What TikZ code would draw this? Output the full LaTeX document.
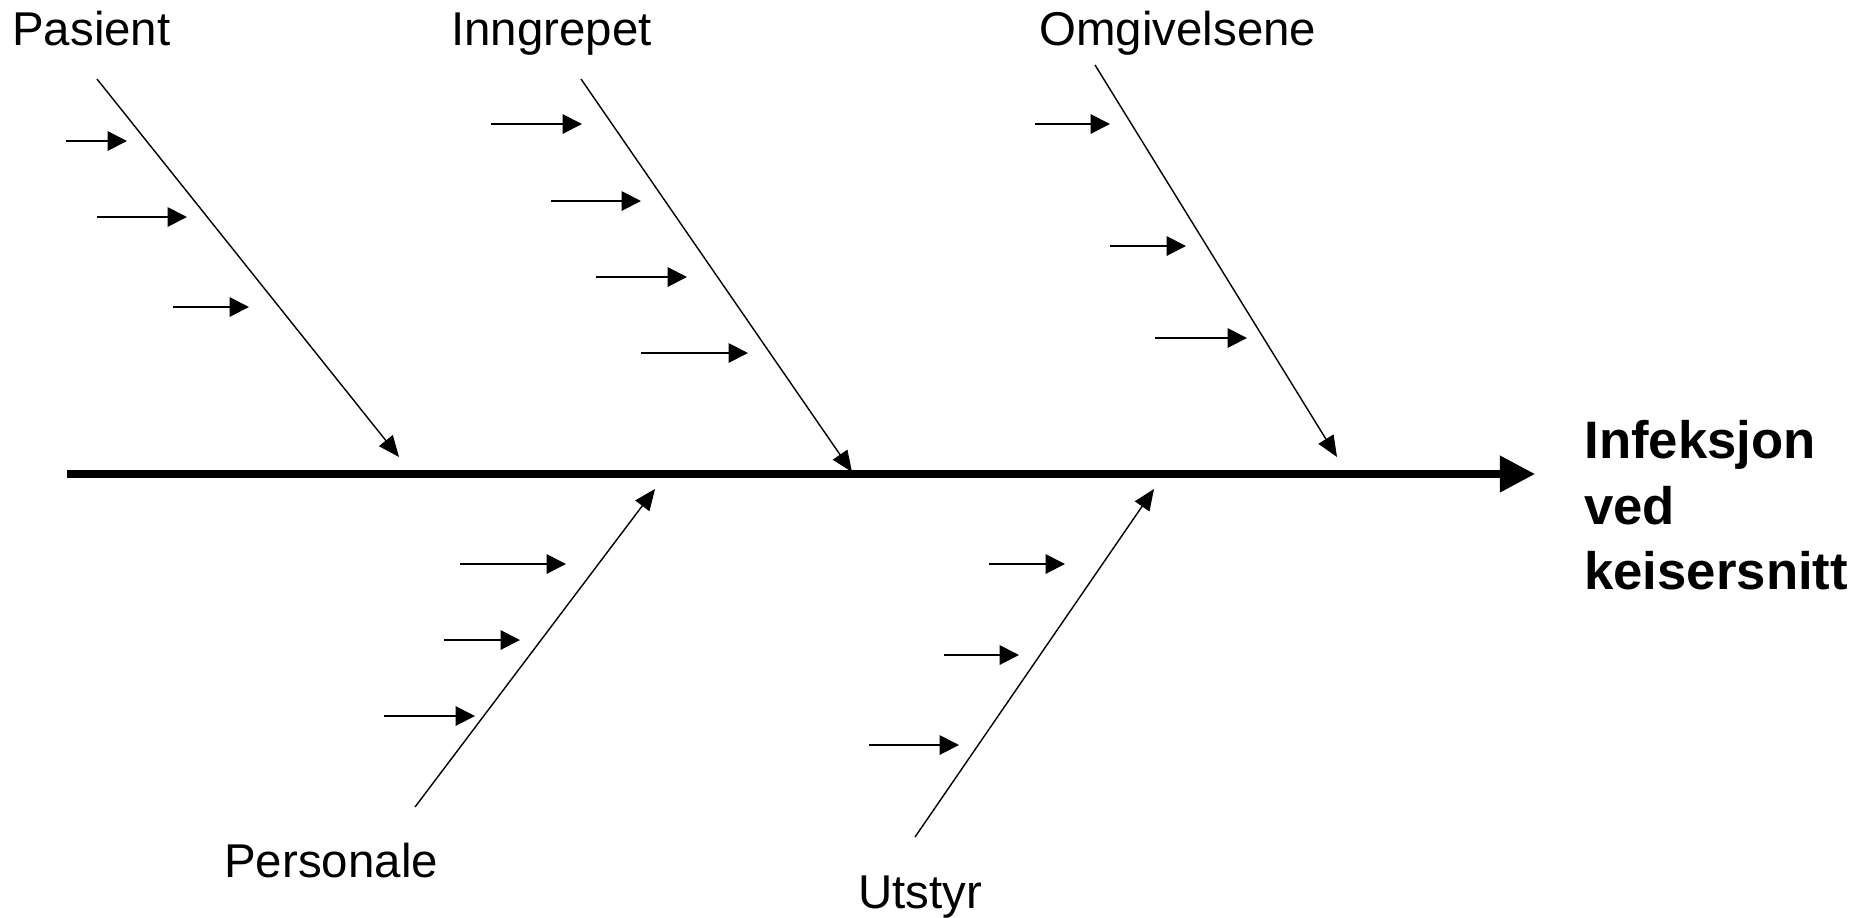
\documentclass[tikz,border=0pt]{standalone}
\usepackage{fontspec}
\setmainfont{Liberation Sans}
\usetikzlibrary{arrows.meta}

\begin{document}
\begin{tikzpicture}[x=0.02cm, y=-0.02cm, font=\fontsize{27}{32}\selectfont,
    spine/.style={line width=4pt, -{Triangle[length=20pt,width=20pt]}},
    bone/.style={line width=0.8pt, -{Triangle[length=12pt,width=10pt]}},
    cause/.style={line width=1.1pt, -{Triangle[length=11pt,width=11pt]}},
    cat/.style={anchor=base west, inner sep=0pt}]
			\useasboundingbox (0,0) rectangle (1858,917);

			\node[cat] (pas) at (12,45) {Pasient};
			\node[cat] (inn) at (451,45) {Inngrepet};
			\node[cat] (omg) at (1039,45) {Omgivelsene};
			\node[cat] (per) at (224,877) {Personale};
			\node[cat] (uts) at (858,908) {Utstyr};
			\node[cat, align=left, font=\bfseries\fontsize{30}{37}\selectfont] (inf) at (1584,589) {Infeksjon\\ved\\keisersnitt};

			\coordinate (tail) at (67,474);
			\coordinate (head) at (1535,474);
			\draw[spine] (tail) -- (head);

			\coordinate (pas0) at (97,79);   \coordinate (pas1) at (399,457);
			\coordinate (inn0) at (581,79);  \coordinate (inn1) at (852,472);
			\coordinate (omg0) at (1095,65); \coordinate (omg1) at (1337,457);
			\coordinate (per0) at (415,807); \coordinate (per1) at (655,489);
			\coordinate (uts0) at (915,837); \coordinate (uts1) at (1154,489);

			\path
			  (pas0) edge[bone] (pas1)
			  (inn0) edge[bone] (inn1)
			  (omg0) edge[bone] (omg1)
			  (per0) edge[bone] (per1)
			  (uts0) edge[bone] (uts1);

			% small cause arrows: y / from x / to x
			\foreach \y/\a/\b [count=\i] in {141/66/127, 217/97/187, 307/173/249,
			    124/491/582, 201/551/641, 277/596/687, 353/641/748,
			    124/1035/1110, 246/1110/1186, 338/1155/1247,
			    564/460/566, 640/444/520, 716/384/475,
			    564/989/1065, 655/944/1019, 745/869/959} {
			  \coordinate (c\i a) at (\a,\y);
			  \coordinate (c\i b) at (\b,\y);
			  \draw[cause] (c\i a) -- (c\i b);
			}

		  \end{tikzpicture}
\end{document}
